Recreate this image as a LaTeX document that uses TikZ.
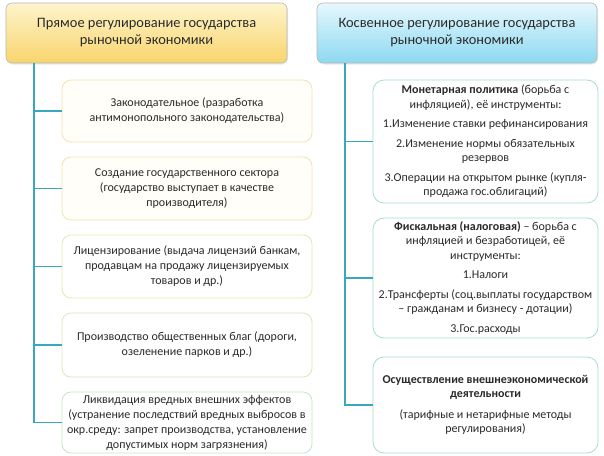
\documentclass[tikz,border=0pt]{standalone}
\usepackage{fontspec}
\setmainfont{Carlito}
\usetikzlibrary{shadows}
\definecolor{linec}{HTML}{3AA8BC}
\definecolor{txt}{HTML}{2A2A2A}
\definecolor{bA}{HTML}{F3E2B2}
\definecolor{bB}{HTML}{EEE7AE}
\definecolor{bC}{HTML}{E3EAB2}
\definecolor{bD}{HTML}{D8EABA}
\definecolor{bE}{HTML}{C6E6C4}
\definecolor{rb}{HTML}{A8DCD0}
\definecolor{ltop}{HTML}{FEF4CC}
\definecolor{lbot}{HTML}{F8D56C}
\definecolor{rtop}{HTML}{E6F8FD}
\definecolor{rbot}{HTML}{8CD8F1}
\definecolor{cream}{HTML}{FFFEF9}
\tikzset{
  header/.style={draw=black!28, line width=0.6pt, rounded corners=6pt, align=center,
     text=txt, font=\fontsize{14.4}{17}\selectfont, inner sep=0pt,
     drop shadow={opacity=0.18, shadow xshift=1pt, shadow yshift=-1.5pt}},
  lbox/.style={line width=0.8pt, rounded corners=9pt, align=center, fill=white,
     text=txt, font=\fontsize{12}{15}\selectfont, inner sep=0pt,
     minimum width=250pt},
  rbox/.style={draw=rb, line width=0.8pt, rounded corners=11pt, align=center, fill=white,
     text=txt, font=\fontsize{12}{14.5}\selectfont, inner sep=0pt,
     minimum width=225pt},
  conn/.style={draw=linec, line width=1.3pt}
}
\begin{document}
\begin{tikzpicture}[x=1pt,y=-1pt]
\useasboundingbox (0,0) rectangle (604,455);
\fill[white] (0,0) rectangle (604,455);

\node[header, top color=ltop, bottom color=lbot, minimum width=281pt, minimum height=60pt]
  (lh) at (146.5,33) {Прямое регулирование государства\\рыночной экономики};
\node[header, top color=rtop, bottom color=rbot, minimum width=280pt, minimum height=60pt]
  (rh) at (457,33) {Косвенное регулирование государства\\рыночной экономики};

\node[lbox, draw=bA, fill=cream, minimum height=62pt] (b1) at (187,111)
  {Законодательное (разработка\\антимонопольного законодательства)};
\node[lbox, draw=bB, fill=cream, minimum height=63pt] (b2) at (187,188.5)
  {Создание государственного сектора\\(государство выступает в качестве\\производителя)};
\node[lbox, draw=bC, minimum height=63pt] (b3) at (187,266.5)
  {Лицензирование (выдача лицензий банкам,\\продавцам на продажу лицензируемых\\товаров и др.)};
\node[lbox, draw=bD, minimum height=64pt] (b4) at (187,345)
  {Производство общественных благ (дороги,\\озеленение парков и др.)};
\node[lbox, draw=bE, minimum height=61pt] (b5) at (187,422.5)
  {Ликвидация вредных внешних эффектов\\(устранение последствий вредных выбросов в\\окр.среду: запрет производства, установление\\допустимых норм загрязнения)};

\node[rbox, minimum height=123pt] (r1) at (485.5,141.5)
  {\textbf{Монетарная политика} (борьба с\\инфляцией), её инструменты:\\[5pt]
   1.Изменение ставки рефинансирования\\[5pt]
   2.Изменение нормы обязательных\\резервов\\[5pt]
   3.Операции на открытом рынке (купля-\\продажа гос.облигаций)};
\node[rbox, minimum height=120pt] (r2) at (485.5,278)
  {\textbf{Фискальная (налоговая)} – борьба с\\инфляцией и безработицей, её\\инструменты:\\[5pt]
   1.Налоги\\[5pt]
   2.Трансферты (соц.выплаты государством\\– гражданам и бизнесу - дотации)\\[5pt]
   3.Гос.расходы};
\node[rbox, minimum height=96pt] (r3) at (485.5,405)
  {\textbf{Осуществление внешнеэкономической}\\\textbf{деятельности}\\[6pt]
   (тарифные и нетарифные методы\\регулирования)};

\coordinate (lx) at (34,63);
\coordinate (rx) at (345,63);
\draw[conn] (lh.south -| lx) |- (b5.west);
\foreach \b in {b1,b2,b3,b4} \draw[conn] (lx |- \b.west) -- (\b.west);
\draw[conn] (rh.south -| rx) |- (r3.west);
\foreach \b in {r1,r2} \draw[conn] (rx |- \b.west) -- (\b.west);
\end{tikzpicture}
\end{document}
